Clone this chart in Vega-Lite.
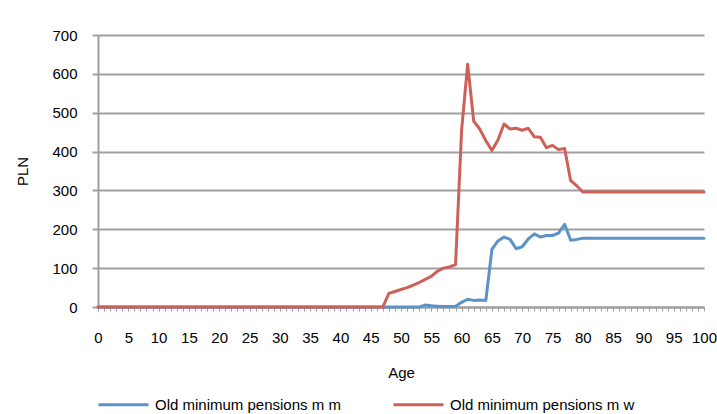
{
  "$schema": "https://vega.github.io/schema/vega-lite/v6.json",
  "width": 606,
  "height": 272,
  "autosize": {"type": "none"},
  "padding": {"left": 98, "top": 35, "right": 13, "bottom": 107},
  "background": "white",
  "config": {
    "font": "Liberation Sans",
    "view": {"stroke": null},
    "axis": {"labelFont": "Liberation Sans", "titleFont": "Liberation Sans", "labelColor": "#000", "titleColor": "#000", "labelFontSize": 15, "titleFontSize": 15, "titleFontWeight": "normal"}
  },
  "data": {
    "values": [
      {"age":0,"mm":0,"mw":0},{"age":1,"mm":0,"mw":0},{"age":2,"mm":0,"mw":0},{"age":3,"mm":0,"mw":0},{"age":4,"mm":0,"mw":0},
      {"age":5,"mm":0,"mw":0},{"age":6,"mm":0,"mw":0},{"age":7,"mm":0,"mw":0},{"age":8,"mm":0,"mw":0},{"age":9,"mm":0,"mw":0},
      {"age":10,"mm":0,"mw":0},{"age":11,"mm":0,"mw":0},{"age":12,"mm":0,"mw":0},{"age":13,"mm":0,"mw":0},{"age":14,"mm":0,"mw":0},
      {"age":15,"mm":0,"mw":0},{"age":16,"mm":0,"mw":0},{"age":17,"mm":0,"mw":0},{"age":18,"mm":0,"mw":0},{"age":19,"mm":0,"mw":0},
      {"age":20,"mm":0,"mw":0},{"age":21,"mm":0,"mw":0},{"age":22,"mm":0,"mw":0},{"age":23,"mm":0,"mw":0},{"age":24,"mm":0,"mw":0},
      {"age":25,"mm":0,"mw":0},{"age":26,"mm":0,"mw":0},{"age":27,"mm":0,"mw":0},{"age":28,"mm":0,"mw":0},{"age":29,"mm":0,"mw":0},
      {"age":30,"mm":0,"mw":0},{"age":31,"mm":0,"mw":0},{"age":32,"mm":0,"mw":0},{"age":33,"mm":0,"mw":0},{"age":34,"mm":0,"mw":0},
      {"age":35,"mm":0,"mw":0},{"age":36,"mm":0,"mw":0},{"age":37,"mm":0,"mw":0},{"age":38,"mm":0,"mw":0},{"age":39,"mm":0,"mw":0},
      {"age":40,"mm":0,"mw":0},{"age":41,"mm":0,"mw":0},{"age":42,"mm":0,"mw":0},{"age":43,"mm":0,"mw":0},{"age":44,"mm":0,"mw":0},
      {"age":45,"mm":0,"mw":0},{"age":46,"mm":0,"mw":0},{"age":47,"mm":0,"mw":0},{"age":48,"mm":0,"mw":35},{"age":49,"mm":0,"mw":40},
      {"age":50,"mm":0,"mw":45},{"age":51,"mm":0,"mw":50},{"age":52,"mm":0,"mw":56},{"age":53,"mm":0,"mw":63},{"age":54,"mm":5,"mw":71},
      {"age":55,"mm":3,"mw":79},{"age":56,"mm":2,"mw":92},{"age":57,"mm":1,"mw":100},{"age":58,"mm":1,"mw":103},{"age":59,"mm":2,"mw":109},
      {"age":60,"mm":12,"mw":455},{"age":61,"mm":20,"mw":625},{"age":62,"mm":17,"mw":478},{"age":63,"mm":18,"mw":458},{"age":64,"mm":17,"mw":428},
      {"age":65,"mm":148,"mw":403},{"age":66,"mm":170,"mw":430},{"age":67,"mm":180,"mw":471},{"age":68,"mm":174,"mw":458},{"age":69,"mm":150,"mw":460},
      {"age":70,"mm":155,"mw":455},{"age":71,"mm":175,"mw":460},{"age":72,"mm":188,"mw":438},{"age":73,"mm":180,"mw":437},{"age":74,"mm":184,"mw":410},
      {"age":75,"mm":184,"mw":416},{"age":76,"mm":190,"mw":405},{"age":77,"mm":213,"mw":408},{"age":78,"mm":172,"mw":325},{"age":79,"mm":174,"mw":312},
      {"age":80,"mm":177,"mw":296},{"age":81,"mm":177,"mw":296},{"age":82,"mm":177,"mw":296},{"age":83,"mm":177,"mw":296},{"age":84,"mm":177,"mw":296},
      {"age":85,"mm":177,"mw":296},{"age":86,"mm":177,"mw":296},{"age":87,"mm":177,"mw":296},{"age":88,"mm":177,"mw":296},{"age":89,"mm":177,"mw":296},
      {"age":90,"mm":177,"mw":296},{"age":91,"mm":177,"mw":296},{"age":92,"mm":177,"mw":296},{"age":93,"mm":177,"mw":296},{"age":94,"mm":177,"mw":296},
      {"age":95,"mm":177,"mw":296},{"age":96,"mm":177,"mw":296},{"age":97,"mm":177,"mw":296},{"age":98,"mm":177,"mw":296},{"age":99,"mm":177,"mw":296},
      {"age":100,"mm":177,"mw":296}
    ]
  },
  "transform": [{"fold": ["mm", "mw"], "as": ["series", "value"]}],
  "mark": {"type": "line", "strokeWidth": 3, "strokeJoin": "round", "strokeCap": "round"},
  "encoding": {
    "x": {
      "field": "age", "type": "quantitative",
      "scale": {"domain": [0, 100], "nice": false},
      "axis": {
        "title": "Age", "titleY": 58, "titlePadding": 0,
        "tickCount": 100, "labelExpr": "datum.value % 5 === 0 ? datum.label : ''",
        "grid": false, "domainColor": "#a0a0a0", "domainWidth": 2,
        "tickColor": "#a0a0a0", "tickSize": 4, "tickWidth": 1,
        "labelPadding": 19, "labelOverlap": false, "labelFlush": false
      }
    },
    "y": {
      "field": "value", "type": "quantitative",
      "scale": {"domain": [0, 700], "nice": false},
      "axis": {
        "title": "PLN", "titleX": -76, "titleY": 136, "titleAngle": -90, "titleAlign": "center", "titleBaseline": "middle",
        "values": [0, 100, 200, 300, 400, 500, 600, 700],
        "grid": true, "gridColor": "#a0a0a0", "gridWidth": 2,
        "domainColor": "#a0a0a0", "domainWidth": 2,
        "tickColor": "#a0a0a0", "tickSize": 6, "tickWidth": 2,
        "labelPadding": 15
      }
    },
    "color": {
      "field": "series", "type": "nominal",
      "scale": {"domain": ["mm", "mw"], "range": ["#5b93c9", "#cd615a"]},
      "legend": {
        "title": null, "orient": "none", "direction": "horizontal",
        "legendX": -1, "legendY": 343,
        "symbolType": "stroke", "symbolSize": 2500, "symbolStrokeWidth": 3,
        "labelFontSize": 15, "labelFont": "Liberation Sans", "labelColor": "#000", "labelOffset": 5,
        "columnPadding": 46, "labelLimit": 400,
        "labelExpr": "datum.label === 'mm' ? 'Old minimum pensions m m' : 'Old minimum pensions m w'"
      }
    }
  }
}
